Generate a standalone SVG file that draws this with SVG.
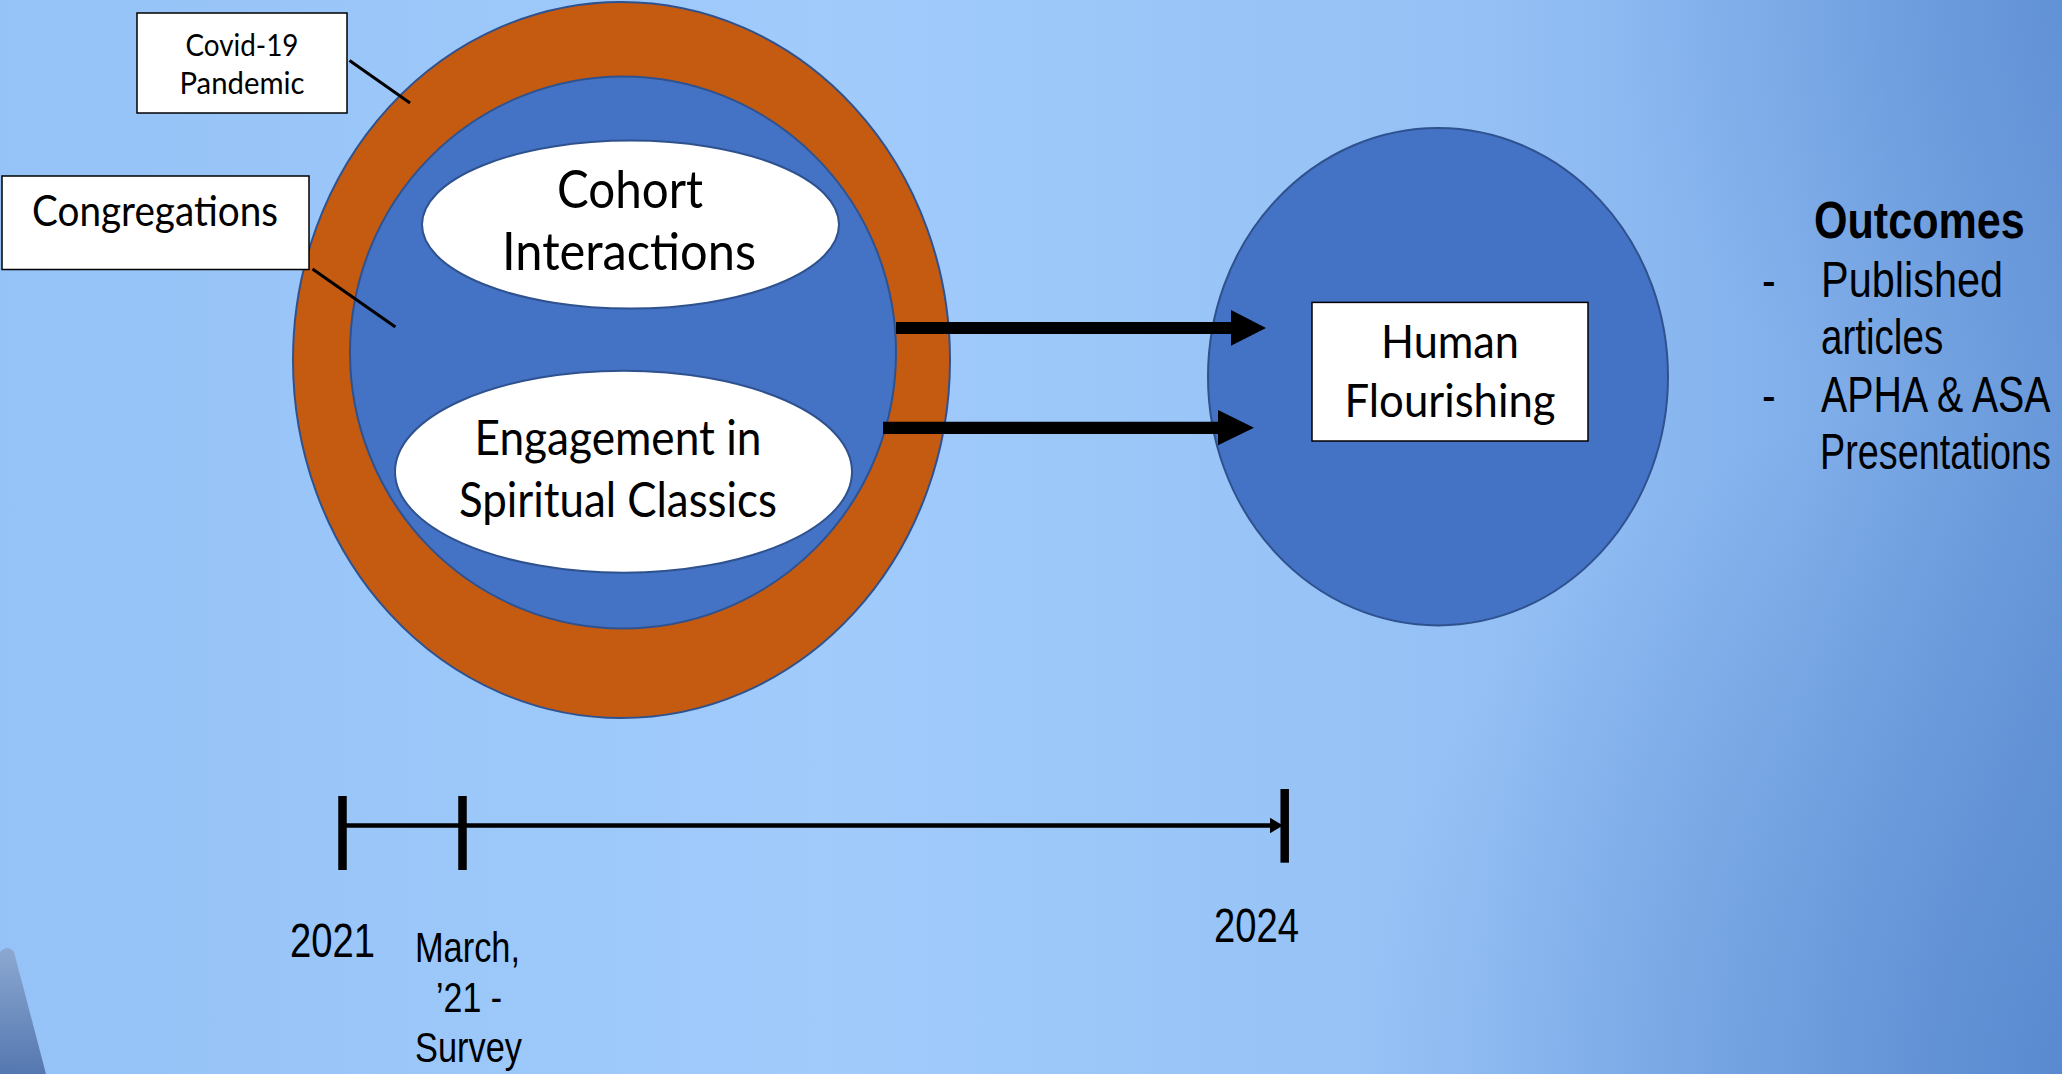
<svg xmlns="http://www.w3.org/2000/svg" width="2062" height="1074" viewBox="0 0 2062 1074">
<style>
.cal{font-family:Lato,"Open Sans","Noto Sans",sans-serif;fill:#000;text-anchor:middle}
.nar{font-family:"Liberation Sans",Arial,sans-serif;fill:#000}
.ring{fill:#c55a11;stroke:#2f528f;stroke-width:2}
.blue{fill:#4472c4;stroke:#2f528f;stroke-width:2}
.white{fill:#fff;stroke:#2f528f;stroke-width:2}
.box{fill:#fff;stroke:#000;stroke-width:1.5}
.lead{stroke:#000;stroke-width:3}
.tick{stroke:#000;stroke-width:8.5}
</style>
<defs>
<linearGradient id="bg" x1="0" y1="0" x2="1" y2="0">
<stop offset="0" stop-color="#95c2f7"/>
<stop offset="0.4" stop-color="#a0cbfb"/>
<stop offset="0.72" stop-color="#94c0f5"/>
<stop offset="0.87" stop-color="#82b0eb"/>
<stop offset="1" stop-color="#6999da"/>
</linearGradient>
<radialGradient id="shade" gradientUnits="userSpaceOnUse" cx="2062" cy="1074" r="700">
<stop offset="0" stop-color="#4f80c9" stop-opacity="0.6"/>
<stop offset="1" stop-color="#4f80c9" stop-opacity="0"/>
</radialGradient>
<radialGradient id="shade2" gradientUnits="userSpaceOnUse" cx="2062" cy="0" r="450">
<stop offset="0" stop-color="#5a8ad2" stop-opacity="0.45"/>
<stop offset="1" stop-color="#5a8ad2" stop-opacity="0"/>
</radialGradient>
<linearGradient id="bld" x1="0" y1="0" x2="0" y2="1">
<stop offset="0" stop-color="#8aa2c8"/>
<stop offset="1" stop-color="#44659e"/>
</linearGradient>
</defs>
<rect width="2062" height="1074" fill="url(#bg)"/>
<rect width="2062" height="1074" fill="url(#shade)"/>
<rect width="2062" height="1074" fill="url(#shade2)"/>
<path d="M0,952 Q8,944 14,952 L46,1074 L0,1074 Z" fill="url(#bld)" opacity="0.8"/>

<g id="pandemic">
<ellipse class="ring" cx="621.5" cy="360" rx="328.5" ry="358"/>
</g>
<g id="congregation">
<ellipse class="blue" cx="623" cy="352.5" rx="273" ry="276"/>
</g>
<g id="cohort">
<ellipse class="white" cx="630.5" cy="224.6" rx="208.5" ry="84"/>
<text class="cal" x="630" y="207.6" font-size="52" textLength="146" lengthAdjust="spacingAndGlyphs">Cohort</text>
<text class="cal" x="629" y="270.4" font-size="52" textLength="254" lengthAdjust="spacingAndGlyphs">Interactions</text>
</g>
<g id="engagement">
<ellipse class="white" cx="623.5" cy="471.7" rx="228.5" ry="101"/>
<text class="cal" x="618" y="455" font-size="48" textLength="287" lengthAdjust="spacingAndGlyphs">Engagement in</text>
<text class="cal" x="618" y="516.8" font-size="48" textLength="318" lengthAdjust="spacingAndGlyphs">Spiritual Classics</text>
</g>
<g id="flourishing-circle">
<ellipse class="blue" cx="1438" cy="376.7" rx="230" ry="248.7"/>
</g>
<g id="human-flourishing">
<rect class="box" x="1312" y="302.4" width="276" height="138.6"/>
<text class="cal" x="1450" y="357.8" font-size="47" textLength="138" lengthAdjust="spacingAndGlyphs">Human</text>
<text class="cal" x="1450" y="417.4" font-size="47" textLength="211" lengthAdjust="spacingAndGlyphs">Flourishing</text>
</g>
<g id="covid-label">
<rect class="box" x="137" y="13" width="210" height="100"/>
<text class="cal" x="242" y="55.7" font-size="31" textLength="113" lengthAdjust="spacingAndGlyphs">Covid-19</text>
<text class="cal" x="242" y="94.4" font-size="31" textLength="125" lengthAdjust="spacingAndGlyphs">Pandemic</text>
</g>
<g id="congregations-label">
<rect class="box" x="2" y="176" width="307" height="93.5"/>
<text class="cal" x="155" y="225.6" font-size="42" textLength="246" lengthAdjust="spacingAndGlyphs">Congregations</text>
</g>
<g id="outcomes">
<text class="nar" transform="translate(1814,238) scale(0.82,1)" font-size="52" font-weight="bold" textLength="257" lengthAdjust="spacingAndGlyphs">Outcomes</text>
<text class="nar" transform="translate(1762,297) scale(0.82,1)" font-size="50">-</text>
<text class="nar" transform="translate(1821,297) scale(0.82,1)" font-size="50" textLength="222" lengthAdjust="spacingAndGlyphs">Published</text>
<text class="nar" transform="translate(1821,354) scale(0.82,1)" font-size="50" textLength="149" lengthAdjust="spacingAndGlyphs">articles</text>
<text class="nar" transform="translate(1762,412) scale(0.82,1)" font-size="50">-</text>
<text class="nar" transform="translate(1821,412) scale(0.82,1)" font-size="50" textLength="280" lengthAdjust="spacingAndGlyphs">APHA &amp; ASA</text>
<text class="nar" transform="translate(1820,469) scale(0.77,1)" font-size="50" textLength="300" lengthAdjust="spacingAndGlyphs">Presentations</text>
</g>
<g id="timeline-labels">
<text class="nar" x="290" y="956.7" font-size="48" textLength="85" lengthAdjust="spacingAndGlyphs">2021</text>
<text class="nar" x="1214" y="941.7" font-size="48" textLength="85" lengthAdjust="spacingAndGlyphs">2024</text>
<text class="nar" x="415" y="961.7" font-size="42" textLength="105" lengthAdjust="spacingAndGlyphs">March,</text>
<text class="nar" x="436" y="1011.7" font-size="42" textLength="66" lengthAdjust="spacingAndGlyphs">’21 -</text>
<text class="nar" x="415" y="1061.7" font-size="42" textLength="107" lengthAdjust="spacingAndGlyphs">Survey</text>
</g>
<g id="connectors">
<line class="lead" x1="349.5" y1="60.4" x2="410" y2="102.9"/>
<line class="lead" x1="312.5" y1="269" x2="395.4" y2="327"/>
<polygon points="896,322 1231,322 1231,310 1266,328 1231,345.7 1231,334 896,334" fill="#000"/>
<polygon points="883,421.7 1218,421.7 1218,410 1254,427.8 1218,445.3 1218,434 883,434" fill="#000"/>
<line class="tick" x1="342.5" y1="796" x2="342.5" y2="870"/>
<line class="tick" x1="462.5" y1="796" x2="462.5" y2="870"/>
<line class="tick" x1="1284.7" y1="789" x2="1284.7" y2="862.7"/>
<line x1="342.5" y1="825.5" x2="1272" y2="825.5" stroke="#000" stroke-width="4.4"/>
<polygon points="1270,817.7 1283,825.5 1270,833.3" fill="#000"/>
</g>
</svg>
